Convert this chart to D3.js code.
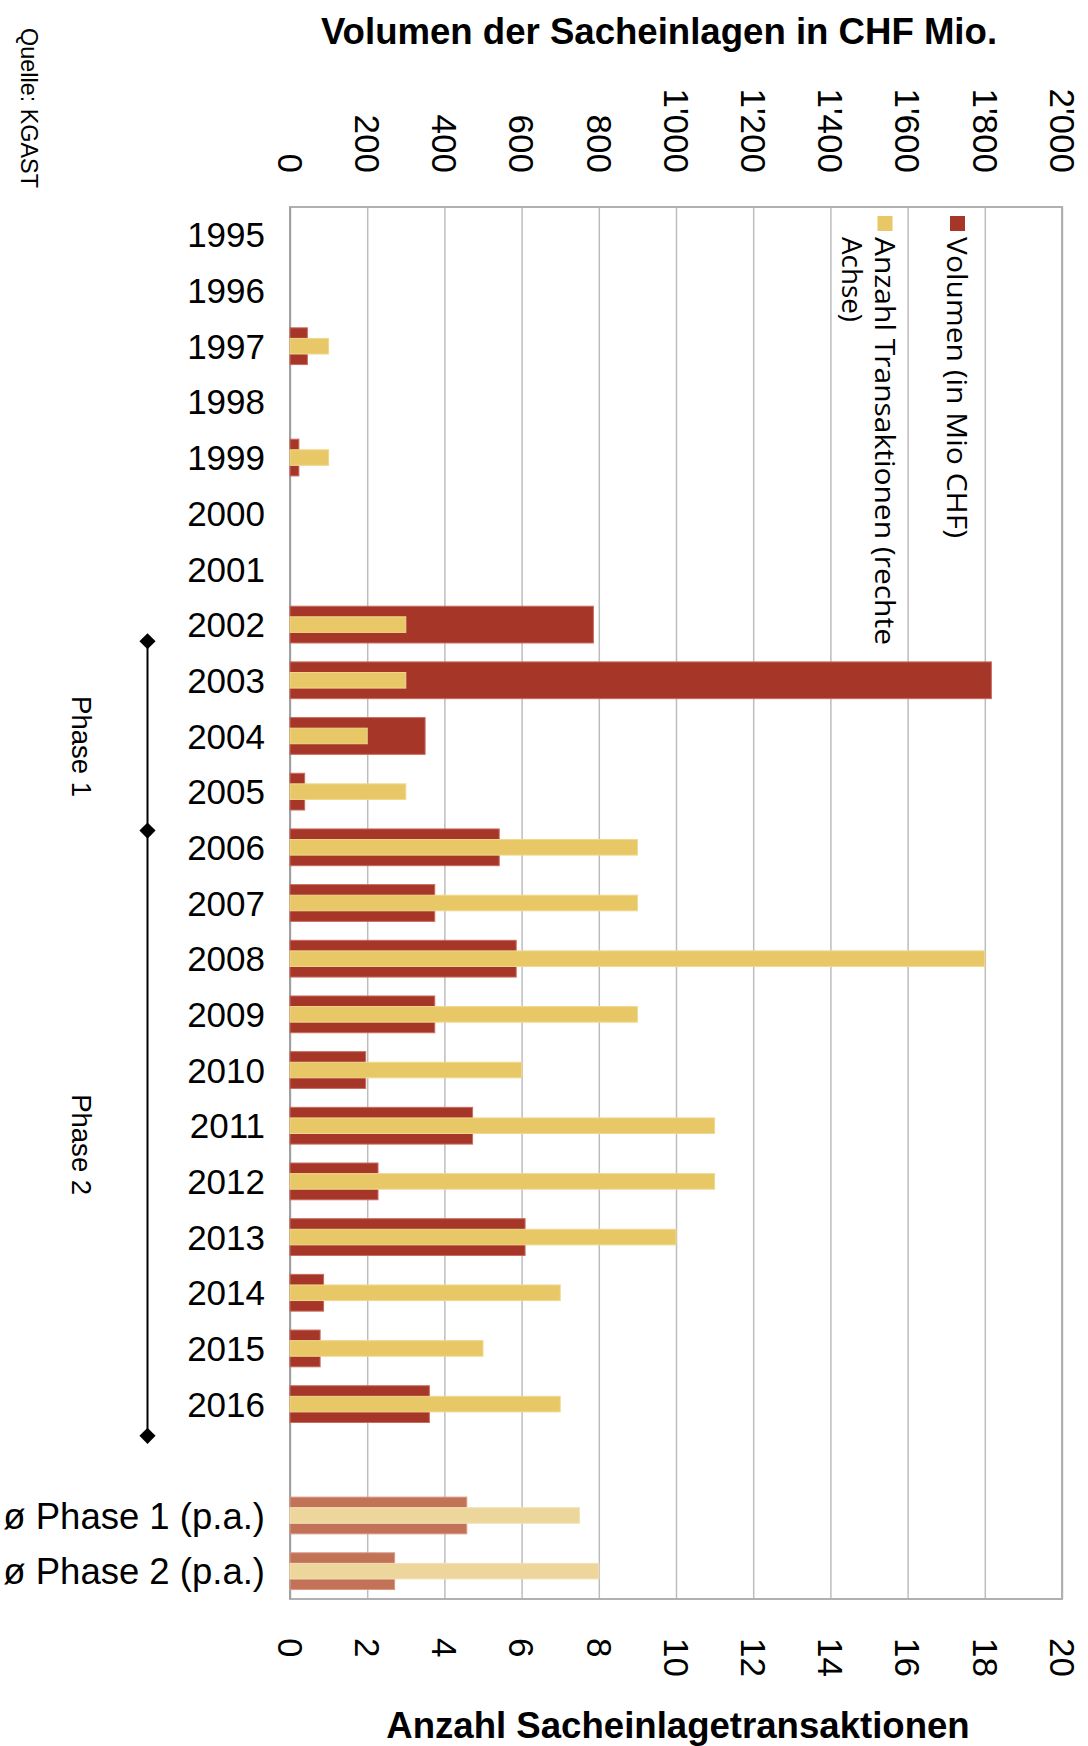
<!DOCTYPE html>
<html>
<head>
<meta charset="utf-8">
<script src="https://cdn.jsdelivr.net/npm/d3@7"></script>
<style>
  html, body { margin: 0; padding: 0; background: #fff; }
  svg { display: block; }
  text { font-family: "Liberation Sans", Arial, sans-serif; fill: #000; }
</style>
</head>
<body>
<svg id="chart" width="1088" height="1746"></svg>
<script>
// Sacheinlagen: volume (Mio CHF, top axis) and number of transactions (bottom axis)
const categories = ["1995","1996","1997","1998","1999","2000","2001","2002","2003","2004",
  "2005","2006","2007","2008","2009","2010","2011","2012","2013","2014","2015","2016",
  "", "ø Phase 1 (p.a.)", "ø Phase 2 (p.a.)"];
const volume = [0, 0, 45, 0, 23, 0, 0, 786, 1817, 350, 38, 542, 375, 586, 375, 196, 473, 228,
  609, 87, 78, 361, null, 458, 271];
const count = [0, 0, 1, 0, 1, 0, 0, 3, 3, 2, 3, 9, 9, 18, 9, 6, 11, 11, 10, 7, 5, 7,
  null, 7.5, 8];
const averageRows = ["ø Phase 1 (p.a.)", "ø Phase 2 (p.a.)"];

const volumeTicks = [0, 200, 400, 600, 800, 1000, 1200, 1400, 1600, 1800, 2000];
const countTicks = [0, 2, 4, 6, 8, 10, 12, 14, 16, 18, 20];

// phase bracket (in years) and phase label centres
const phaseBounds = [2002.3, 2005.7, 2016.57];
const phaseLabels = [{ text: "Phase 1", year: 2004.19 }, { text: "Phase 2", year: 2011.34 }];

const legendItems = [
  { lines: ["Volumen (in Mio CHF)"], color: "#A53628" },
  { lines: ["Anzahl Transaktionen (rechte", "Achse)"], color: "#E8C766" }
];

const colors = {
  vol: "#A53628", volEdge: "#C96A5E",
  cnt: "#E8C766", cntEdge: "#F0D88E",
  volAvg: "#C27257", volAvgEdge: "#D99A84",
  cntAvg: "#EDD69C", cntAvgEdge: "#F3E2B8"
};

const svg = d3.select("#chart");
const margin = { left: 290, right: 1062, top: 207, bottom: 1599 };

const y = d3.scaleBand().domain(d3.range(categories.length))
  .range([margin.top, margin.bottom]).padding(0);
const xVol = d3.scaleLinear().domain([0, 2000]).range([margin.left, margin.right]);
const xCnt = d3.scaleLinear().domain([0, 20]).range([margin.left, margin.right]);
const yearY = d3.scaleLinear().domain([1995, 2016])
  .range([y(0) + y.bandwidth() / 2, y(21) + y.bandwidth() / 2]);

const swiss = d3.formatLocale({ decimal: ".", thousands: "'", grouping: [3], currency: ["", ""] });
const fmt = swiss.format(",");

// grid + top axis (volume)
const topAxis = svg.append("g").attr("transform", `translate(0,${margin.top})`)
  .call(d3.axisTop(xVol).tickValues(volumeTicks).tickFormat(fmt)
    .tickSize(-(margin.bottom - margin.top)).tickSizeOuter(0));
topAxis.select(".domain").remove();
topAxis.selectAll(".tick line").attr("stroke", "#BDBDBD").attr("stroke-width", 1.5);
topAxis.selectAll(".tick text")
  .attr("x", 0).attr("y", 0).attr("dy", "0.36em")
  .attr("transform", "translate(0,-34) rotate(90)")
  .attr("text-anchor", "end")
  .style("font-size", "35px").style("font-family", "Liberation Sans, Arial, sans-serif");

// bottom axis (transactions)
const botAxis = svg.append("g").attr("transform", `translate(0,${margin.bottom})`)
  .call(d3.axisBottom(xCnt).tickValues(countTicks).tickSize(0).tickSizeOuter(0));
botAxis.select(".domain").remove();
botAxis.selectAll(".tick text")
  .attr("x", 0).attr("y", 0).attr("dy", "0.36em")
  .attr("transform", "translate(0,39) rotate(90)")
  .attr("text-anchor", "start")
  .style("font-size", "35px").style("font-family", "Liberation Sans, Arial, sans-serif");

// plot frame
svg.append("rect")
  .attr("x", margin.left).attr("y", margin.top)
  .attr("width", margin.right - margin.left).attr("height", margin.bottom - margin.top)
  .attr("fill", "none").attr("stroke", "#B0B0B0").attr("stroke-width", 2);
svg.append("line")
  .attr("x1", margin.left).attr("x2", margin.left)
  .attr("y1", margin.top).attr("y2", margin.bottom)
  .attr("stroke", "#A0A0A0").attr("stroke-width", 2);

// bars
const rows = categories.map((c, i) => ({ c, i, v: volume[i], n: count[i], avg: averageRows.includes(c) }))
  .filter(d => d.v !== null);
const volH = y.bandwidth() * 0.66;
const cntH = y.bandwidth() * 0.28;

svg.append("g").selectAll("rect").data(rows.filter(d => d.v > 0)).join("rect")
  .attr("x", xVol(0))
  .attr("y", d => y(d.i) + (y.bandwidth() - volH) / 2)
  .attr("width", d => xVol(d.v) - xVol(0))
  .attr("height", volH)
  .attr("fill", d => d.avg ? colors.volAvg : colors.vol)
  .attr("stroke", d => d.avg ? colors.volAvgEdge : colors.volEdge)
  .attr("stroke-width", 1);

svg.append("g").selectAll("rect").data(rows.filter(d => d.n > 0)).join("rect")
  .attr("x", xCnt(0))
  .attr("y", d => y(d.i) + (y.bandwidth() - cntH) / 2)
  .attr("width", d => xCnt(d.n) - xCnt(0))
  .attr("height", cntH)
  .attr("fill", d => d.avg ? colors.cntAvg : colors.cnt)
  .attr("stroke", d => d.avg ? colors.cntAvgEdge : colors.cntEdge)
  .attr("stroke-width", 1);

// category labels
svg.append("g").selectAll("text").data(categories.map((c, i) => ({ c, i })).filter(d => d.c !== ""))
  .join("text")
  .attr("x", margin.left - 25)
  .attr("y", d => y(d.i) + y.bandwidth() / 2)
  .attr("dy", "0.36em")
  .attr("text-anchor", "end")
  .style("font-size", d => averageRows.includes(d.c) ? "36.5px" : "35px")
  .text(d => d.c);

// axis titles
svg.append("text").attr("x", 659).attr("y", 44).attr("text-anchor", "middle")
  .style("font-size", "36.6px").style("font-weight", "bold")
  .text("Volumen der Sacheinlagen in CHF Mio.");
svg.append("text").attr("x", 678).attr("y", 1738).attr("text-anchor", "middle")
  .style("font-size", "36.6px").style("font-weight", "bold")
  .text("Anzahl Sacheinlagetransaktionen");

// source
svg.append("text")
  .attr("transform", "translate(21,28) rotate(90)")
  .style("font-size", "24px")
  .attr("textLength", 160).attr("lengthAdjust", "spacingAndGlyphs")
  .text("Quelle: KGAST");

// phase bracket
const bx = 147.5;
svg.append("line")
  .attr("x1", bx).attr("x2", bx)
  .attr("y1", yearY(phaseBounds[0])).attr("y2", yearY(phaseBounds[phaseBounds.length - 1]))
  .attr("stroke", "#000").attr("stroke-width", 2);
svg.append("g").selectAll("path").data(phaseBounds).join("path")
  .attr("d", d3.symbol(d3.symbolSquare, 130)())
  .attr("transform", d => `translate(${bx},${yearY(d)}) rotate(45)`)
  .attr("fill", "#000");
svg.append("g").selectAll("text").data(phaseLabels).join("text")
  .attr("transform", d => `translate(72,${yearY(d.year)}) rotate(90)`)
  .attr("text-anchor", "middle")
  .style("font-size", "28px")
  .attr("textLength", 101).attr("lengthAdjust", "spacingAndGlyphs")
  .text(d => d.text);

// legend (rotated, inside the plot)
const legendX = [957.5, 885];
const legendLen = [[301], [408, 85]];
const lg = svg.append("g");
legendItems.forEach((item, k) => {
  lg.append("rect")
    .attr("x", legendX[k] - 7.5).attr("y", 216)
    .attr("width", 15).attr("height", 15)
    .attr("fill", item.color);
  item.lines.forEach((line, j) => {
    lg.append("text")
      .attr("transform", `translate(${legendX[k] - 10.5 - j * 33},237) rotate(90)`)
      .style("font-family", "Open Sans, sans-serif")
      .style("font-size", "27px")
      .attr("textLength", legendLen[k][j]).attr("lengthAdjust", "spacingAndGlyphs")
      .text(line);
  });
});
</script>
</body>
</html>
